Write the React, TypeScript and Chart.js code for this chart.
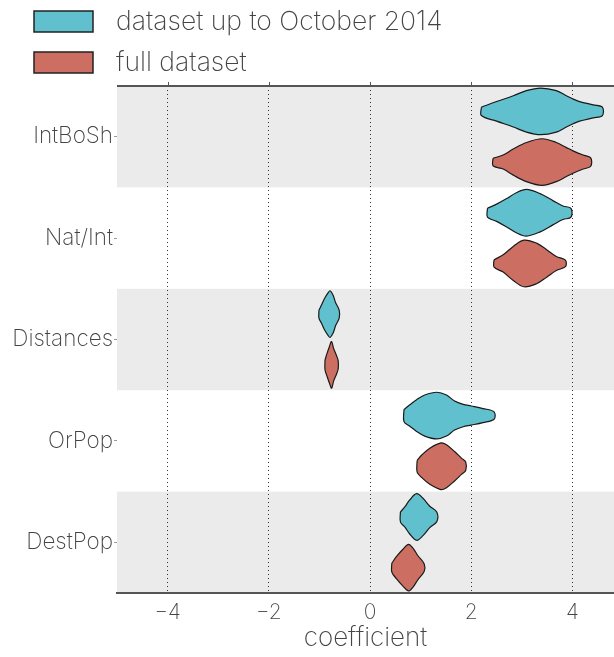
import { useEffect, useRef } from 'react';
import { Chart, registerables } from 'chart.js';

Chart.register(...registerables);

const categories = ['IntBoSh', 'Nat/Int', 'Distances', 'OrPop', 'DestPop'];
const seriesNames = ['dataset up to October 2014', 'full dataset'];
const seriesColors = ['#60c0cd', '#cc6e62'];
const xTicks = [-4, -2, 0, 2, 4];

// violin outlines: coefficient positions and relative density (1 = widest)
const intBoShEarlyCoef = [2.2, 2.5, 2.83, 3.09, 3.37, 3.68, 3.88, 4.01, 4.14, 4.41, 4.59];
const intBoShEarlyDens = [0.18, 0.42, 0.67, 0.89, 1, 0.89, 0.67, 0.53, 0.42, 0.28, 0.18];
const intBoShFullCoef = [2.43, 2.63, 2.83, 3.09, 3.4, 3.68, 3.88, 4.01, 4.21, 4.36];
const intBoShFullDens = [0.16, 0.3, 0.56, 0.84, 1, 0.84, 0.62, 0.48, 0.3, 0.18];

const natIntEarlyCoef = [2.32, 2.5, 2.7, 2.89, 3.09, 3.35, 3.62, 3.81, 3.97];
const natIntEarlyDens = [0.19, 0.37, 0.61, 0.86, 1, 0.83, 0.51, 0.29, 0.19];
const natIntFullCoef = [2.45, 2.63, 2.83, 3.04, 3.29, 3.49, 3.68, 3.86];
const natIntFullDens = [0.16, 0.37, 0.73, 1, 0.87, 0.59, 0.3, 0.14];

const distancesEarlyCoef = [-1.01, -0.96, -0.9, -0.83, -0.79, -0.73, -0.68, -0.61];
const distancesEarlyDens = [0.17, 0.39, 0.67, 0.91, 1, 0.81, 0.49, 0.17];
const distancesFullCoef = [-0.89, -0.85, -0.8, -0.76, -0.72, -0.66, -0.63];
const distancesFullDens = [0.21, 0.49, 0.8, 1, 0.7, 0.38, 0.18];

const orPopEarlyCoef = [0.67, 0.78, 0.92, 1.08, 1.32, 1.51, 1.67, 1.84, 2.0, 2.23, 2.45];
const orPopEarlyDens = [0.26, 0.45, 0.68, 0.88, 1, 0.88, 0.62, 0.48, 0.41, 0.3, 0.16];
const orPopFullCoef = [0.93, 1.02, 1.18, 1.4, 1.51, 1.67, 1.81, 1.89];
const orPopFullDens = [0.25, 0.48, 0.77, 1, 0.92, 0.63, 0.34, 0.18];

const destPopEarlyCoef = [0.6, 0.69, 0.78, 0.92, 1.05, 1.18, 1.32];
const destPopEarlyDens = [0.21, 0.44, 0.72, 1, 0.79, 0.46, 0.2];
const destPopFullCoef = [0.43, 0.52, 0.65, 0.76, 0.85, 0.95, 1.07];
const destPopFullDens = [0.19, 0.47, 0.79, 1, 0.83, 0.5, 0.16];

const violins = [
  { cat: 0, series: 0, coef: intBoShEarlyCoef, dens: intBoShEarlyDens },
  { cat: 0, series: 1, coef: intBoShFullCoef, dens: intBoShFullDens },
  { cat: 1, series: 0, coef: natIntEarlyCoef, dens: natIntEarlyDens },
  { cat: 1, series: 1, coef: natIntFullCoef, dens: natIntFullDens },
  { cat: 2, series: 0, coef: distancesEarlyCoef, dens: distancesEarlyDens },
  { cat: 2, series: 1, coef: distancesFullCoef, dens: distancesFullDens },
  { cat: 3, series: 0, coef: orPopEarlyCoef, dens: orPopEarlyDens },
  { cat: 3, series: 1, coef: orPopFullCoef, dens: orPopFullDens },
  { cat: 4, series: 0, coef: destPopEarlyCoef, dens: destPopEarlyDens },
  { cat: 4, series: 1, coef: destPopFullCoef, dens: destPopFullDens },
];

const DODGE = 0.25;
const HALF_WIDTH = 0.23;
const FONT = 'Inter, Roboto, "Helvetica Neue", Arial, sans-serif';
const W = '200';
const TEXT = '#444';

function outline(cat: number, series: number, coef: number[], dens: number[]) {
  const center = cat + (series === 0 ? -DODGE : DODGE);
  const upper = coef.map((c, i) => ({ x: c, y: center - dens[i] * HALF_WIDTH }));
  const lower = coef.map((c, i) => ({ x: c, y: center + dens[i] * HALF_WIDTH })).reverse();
  return [...upper, ...lower, upper[0]];
}

const bandsPlugin = {
  id: 'bands',
  beforeDraw(chart: any) {
    const { ctx, chartArea, scales } = chart;
    const y = scales.y;
    ctx.save();
    ctx.fillStyle = '#ebebeb';
    categories.forEach((_, i) => {
      if (i % 2 !== 0) return;
      const a = y.getPixelForValue(i - 0.5);
      const b = y.getPixelForValue(i + 0.5);
      ctx.fillRect(chartArea.left, Math.min(a, b), chartArea.right - chartArea.left, Math.abs(b - a));
    });
    ctx.restore();
  },
};

const framePlugin = {
  id: 'frame',
  afterDraw(chart: any) {
    const { ctx, chartArea, scales } = chart;
    const x = scales.x;
    ctx.save();
    ctx.strokeStyle = '#555';
    ctx.lineWidth = 2;
    ctx.beginPath();
    ctx.moveTo(chartArea.left, chartArea.top);
    ctx.lineTo(chartArea.right, chartArea.top);
    ctx.stroke();
    ctx.lineWidth = 1;
    xTicks.forEach((v) => {
      const px = Math.round(x.getPixelForValue(v)) + 0.5;
      ctx.beginPath();
      ctx.moveTo(px, chartArea.top - 4);
      ctx.lineTo(px, chartArea.top);
      ctx.stroke();
    });
    // legend
    ctx.textBaseline = 'middle';
    ctx.textAlign = 'left';
    ctx.font = `${W} 26.5px ${FONT}`;
    seriesNames.forEach((name, i) => {
      const top = 11 + i * 41;
      ctx.fillStyle = seriesColors[i];
      ctx.fillRect(34, top, 59, 21);
      ctx.strokeStyle = '#222';
      ctx.lineWidth = 1.5;
      ctx.strokeRect(34, top, 59, 21);
      ctx.fillStyle = TEXT;
      ctx.fillText(name, 116, top + 11);
    });
    ctx.restore();
  },
};

export default function App() {
  const ref = useRef<HTMLCanvasElement>(null);
  useEffect(() => {
    document.body.style.margin = '0';
    const datasets = violins.map((v) => ({
      label: seriesNames[v.series],
      data: outline(v.cat, v.series, v.coef, v.dens),
      showLine: true,
      fill: 'shape',
      backgroundColor: seriesColors[v.series],
      borderColor: '#1a1a1a',
      borderWidth: 1.2,
      pointRadius: 0,
      pointHoverRadius: 0,
      tension: 0.35,
    }));
    const chart = new Chart(ref.current!, {
      type: 'scatter',
      data: { datasets } as any,
      options: {
        animation: false,
        responsive: false,
        layout: { padding: { top: 86, left: 0, right: 0, bottom: 0 } },
        plugins: { legend: { display: false }, tooltip: { enabled: false } },
        scales: {
          x: {
            type: 'linear',
            min: -5,
            max: 4.82,
            afterBuildTicks: (s: any) => {
              s.ticks = xTicks.map((v) => ({ value: v }));
            },
            afterFit: (s: any) => {
              s.height = 64;
            },
            ticks: {
              font: { family: FONT, size: 21, weight: W },
              color: TEXT,
              padding: 7,
              callback: (v: any) => (v < 0 ? '\u2212' + Math.abs(v) : String(v)),
            },
            grid: { color: '#333', lineWidth: 1, drawTicks: false },
            border: { display: true, color: '#555', width: 2, dash: [1, 3] },
            title: {
              display: true,
              text: 'coefficient',
              font: { family: FONT, size: 26, weight: W },
              color: TEXT,
              padding: { top: 0, bottom: 3 },
            },
          },
          y: {
            type: 'linear',
            reverse: true,
            min: -0.5,
            max: 4.5,
            afterBuildTicks: (s: any) => {
              s.ticks = categories.map((_, i) => ({ value: i }));
            },
            afterFit: (s: any) => {
              s.width = 117;
            },
            ticks: {
              font: { family: FONT, size: 22.5, weight: W },
              color: TEXT,
              padding: 1,
              callback: (v: any) => categories[v] ?? '',
            },
            grid: { drawOnChartArea: false, drawTicks: true, tickLength: 3, tickColor: '#999' },
            border: { display: false },
          },
        },
      },
      plugins: [bandsPlugin, framePlugin],
    } as any);
    return () => chart.destroy();
  }, []);
  return <canvas ref={ref} width={614} height={657} style={{ display: 'block' }} />;
}
